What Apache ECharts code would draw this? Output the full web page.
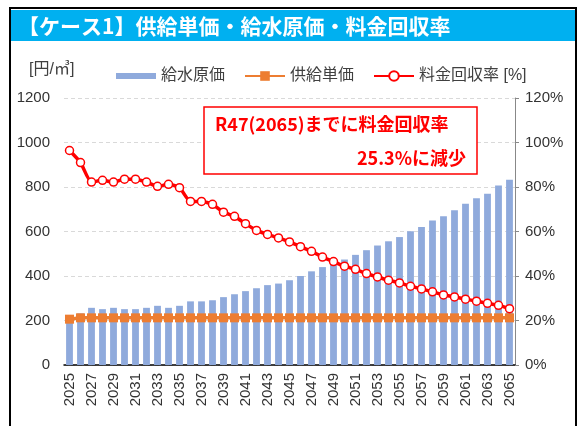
<!DOCTYPE html>
<html>
<head>
    <meta charset="utf-8">
    <title>ケース1</title>
    <style type="text/css">
        body {
            margin: 0;
            background: #fff;
        }
        html, body, #chart {
            width: 578px;
            height: 426px;
        }
    </style>
</head>
<body>
    <div id="chart"></div>
    <script src="https://cdn.jsdelivr.net/npm/echarts@6/dist/echarts.min.js"></script>
    <script>
        var years = ['2025', '2026', '2027', '2028', '2029', '2030', '2031', '2032', '2033', '2034',
            '2035', '2036', '2037', '2038', '2039', '2040', '2041', '2042', '2043', '2044',
            '2045', '2046', '2047', '2048', '2049', '2050', '2051', '2052', '2053', '2054',
            '2055', '2056', '2057', '2058', '2059', '2060', '2061', '2062', '2063', '2064', '2065'];

        // 給水原価 [円/㎥]
        var waterCost = [198, 232, 257, 251, 257, 251, 251, 257, 266, 257,
            266, 286, 286, 291, 305, 318, 332, 345, 359, 366,
            381, 400, 421, 440, 456, 474, 495, 516, 537, 556,
            575, 601, 620, 650, 669, 695, 725, 750, 770, 807, 833];

        // 供給単価 [円/㎥]
        var supplyPrice = [206, 212, 212, 212, 212, 212, 212, 212, 212, 212,
            212, 212, 212, 212, 212, 212, 212, 212, 212, 212,
            212, 212, 212, 212, 212, 212, 212, 212, 212, 212,
            212, 212, 212, 212, 212, 212, 212, 212, 212, 212, 212];

        // 料金回収率 [%]
        var recoveryRate = [96.4, 91.0, 82.2, 83.0, 82.2, 83.5, 83.5, 82.2, 80.3, 81.2,
            79.7, 73.5, 73.5, 72.2, 68.7, 66.8, 63.5, 60.5, 58.7, 57.1,
            55.3, 53.2, 51.1, 48.5, 46.5, 44.4, 43.0, 41.1, 39.6, 38.1,
            36.9, 35.4, 34.2, 32.9, 31.5, 30.6, 29.6, 28.7, 27.7, 26.8, 25.3];

        var seriesNames = ['給水原価', '供給単価', '料金回収率 [%]'];
        var titleText = '【ケース1】供給単価・給水原価・料金回収率';
        var noteLines = ['R47(2065)までに料金回収率', '25.3%に減少'];

        var latin = "'Liberation Sans', 'Noto Sans CJK JP', sans-serif";
        var cjk = "'Noto Sans CJK JP', sans-serif";

        var chart = echarts.init(document.getElementById('chart'));

        chart.setOption({
            animation: false,
            backgroundColor: '#fff',
            textStyle: { fontFamily: latin },
            grid: {
                left: 64,
                right: 63,
                top: 98,
                bottom: 61
            },
            legend: {
                left: 111,
                top: 63,
                itemWidth: 40,
                itemHeight: 12,
                itemGap: 19,
                textStyle: { fontSize: 16, color: '#404040', fontFamily: latin },
                data: [
                    { name: seriesNames[0], icon: 'path://M0,0H40V6H0Z' },
                    { name: seriesNames[1] },
                    { name: seriesNames[2] }
                ]
            },
            xAxis: {
                type: 'category',
                data: years,
                axisLine: { lineStyle: { color: '#000', width: 1.5 } },
                axisTick: { show: false },
                axisLabel: {
                    interval: 1,
                    rotate: 90,
                    margin: 8,
                    fontSize: 15,
                    color: '#333'
                }
            },
            yAxis: [
                {
                    type: 'value',
                    min: 0,
                    max: 1200,
                    interval: 200,
                    axisLine: { show: false },
                    axisTick: { show: false },
                    axisLabel: {
                        fontSize: 15,
                        color: '#333',
                        margin: 14,
                        formatter: function (v) { return String(v); }
                    },
                    splitLine: { lineStyle: { color: '#d9d9d9', type: [4, 3], width: 1 } }
                },
                {
                    type: 'value',
                    min: 0,
                    max: 120,
                    interval: 20,
                    axisLine: { show: true, lineStyle: { color: '#888', width: 1 } },
                    axisTick: { show: true, length: 4, lineStyle: { color: '#888' } },
                    axisLabel: { fontSize: 15, color: '#333', margin: 10, formatter: '{value}%' },
                    splitLine: { show: false }
                }
            ],
            series: [
                {
                    name: seriesNames[0],
                    type: 'bar',
                    data: waterCost,
                    barWidth: '62%',
                    itemStyle: { color: '#8faadc' },
                    z: 1
                },
                {
                    name: seriesNames[1],
                    type: 'line',
                    data: supplyPrice,
                    showAllSymbol: true,
                    symbol: 'rect',
                    symbolSize: 9,
                    lineStyle: { color: '#ed7d31', width: 3.5 },
                    itemStyle: { color: '#ed7d31' },
                    z: 3
                },
                {
                    name: seriesNames[2],
                    type: 'line',
                    yAxisIndex: 1,
                    data: recoveryRate,
                    showAllSymbol: true,
                    smooth: 0.2,
                    symbol: 'circle',
                    symbolSize: 8,
                    lineStyle: { color: '#ff0000', width: 3.5 },
                    itemStyle: { color: '#fff', borderColor: '#ff0000', borderWidth: 1.5 },
                    z: 4
                }
            ],
            graphic: [
                {
                    type: 'rect',
                    shape: { x: 10, y: 8, width: 566, height: 430 },
                    style: { fill: 'none', stroke: '#000', lineWidth: 2 },
                    silent: true,
                    z: 10
                },
                {
                    type: 'rect',
                    shape: { x: 11, y: 10, width: 564, height: 31 },
                    style: { fill: '#00b0f0' },
                    silent: true,
                    z: 10
                },
                {
                    type: 'text',
                    x: 18,
                    y: 26,
                    style: {
                        text: titleText,
                        fill: '#fff',
                        font: 'bold 21px ' + cjk,
                        textVerticalAlign: 'middle'
                    },
                    z: 11
                },
                {
                    type: 'text',
                    x: 29,
                    y: 70,
                    style: {
                        text: '[円/㎥]',
                        fill: '#404040',
                        font: '16px ' + latin,
                        textVerticalAlign: 'middle'
                    },
                    z: 11
                },
                {
                    type: 'rect',
                    shape: { x: 204, y: 107, width: 273, height: 67 },
                    style: { fill: '#fff', stroke: '#ff0000', lineWidth: 1.5 },
                    z: 20
                },
                {
                    type: 'text',
                    x: 215,
                    y: 124,
                    style: {
                        text: noteLines[0],
                        fill: '#ff0000',
                        font: 'bold 18px ' + cjk,
                        textVerticalAlign: 'middle'
                    },
                    z: 21
                },
                {
                    type: 'text',
                    x: 466,
                    y: 158,
                    style: {
                        text: noteLines[1],
                        fill: '#ff0000',
                        font: 'bold 18px ' + cjk,
                        textAlign: 'right',
                        textVerticalAlign: 'middle'
                    },
                    z: 21
                }
            ]
        });
    </script>
</body>
</html>
